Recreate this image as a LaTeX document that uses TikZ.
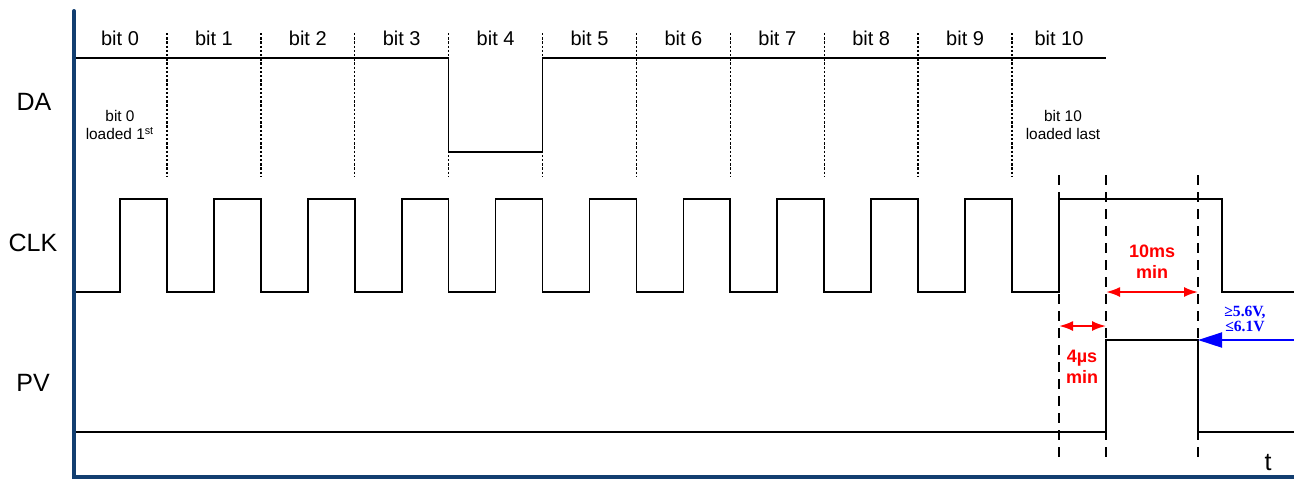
\documentclass[tikz,border=0pt]{standalone}
\usepackage{fontspec}
\setmainfont{Liberation Sans}
\newfontfamily\levelfont{Liberation Serif}
\usetikzlibrary{arrows.meta}
\definecolor{axisblue}{RGB}{18,62,112}
\definecolor{levelblue}{RGB}{0,0,255}
\tikzset{
  sig/.style={line width=0.85pt},
  bitline/.style={line width=0.7pt, dash pattern=on 1.2pt off 0.9pt},
  timeline/.style={line width=0.8pt, dash pattern=on 5pt off 3.5pt},
  dimarrow/.style={red, line width=1pt, {Latex[length=7pt,width=5pt]}-{Latex[length=7pt,width=5pt]}},
  dimtext/.style={red, font=\fontsize{9}{10.4}\selectfont\bfseries, align=center},
  siglabel/.style={font=\fontsize{12.5}{14}\selectfont},
  bitlabel/.style={font=\fontsize{10}{12}\selectfont},
  note/.style={font=\fontsize{7.7}{9.4}\selectfont, align=center},
}
\begin{document}
\begin{tikzpicture}[x=0.5pt,y=-0.5pt]
	\useasboundingbox (0,0) rectangle (1294,479);
	% axes
	\draw[axisblue, line width=2pt, line cap=round] (74,11) -- (74,476.5) -- (1294,476.5);
	% signal names
	\node[siglabel] (da) at (34,102) {DA};
	\node[siglabel] (clk) at (33,243) {CLK};
	\node[siglabel] (pv) at (33,383) {PV};
	% bit cells
	\foreach \k in {0,...,10}
		\node[bitlabel] (bit\k) at ({120+93.9*\k},38) {bit \k};
	\foreach \k in {1,...,10}
		\draw[bitline] ({73+93.9*\k},33) -- ({73+93.9*\k},177);
	\node[note] (first) at (120,125) {bit 0\\loaded 1\textsuperscript{st}};
	\node[note] (last) at (1063,125) {bit 10\\loaded last};
	% DA
	\draw[sig] (76,58) -- (448.6,58) -- (448.6,152) -- (542.5,152) -- (542.5,58) -- (1106,58);
	% CLK
	\draw[sig] (76,292)
		\foreach \k in {0,...,9} {
			-- ({120+93.9*\k},292) -- ({120+93.9*\k},199)
			-- ({166.9+93.9*\k},199) -- ({166.9+93.9*\k},292)
		}
		-- (1059,292) -- (1059,199) -- (1222,199) -- (1222,292) -- (1294,292);
	% PV
	\draw[sig] (76,432) -- (1106,432) -- (1106,340) -- (1198,340) -- (1198,432) -- (1294,432);
	% timing marks
	\foreach \x in {1059,1106,1198}
		\draw[timeline] (\x,175) -- (\x,458);
	\coordinate (clkup) at (1059,326);
	\coordinate (pvupA) at (1106,326);
	\coordinate (pvupB) at (1106,292);
	\coordinate (pvdown) at (1198,292);
	\draw[dimarrow] (clkup) -- (pvupA);
	\draw[dimarrow] (pvupB) -- (pvdown);
	\node[dimtext] (tenms) at (1152,262) {10ms\\min};
	\node[dimtext] (fourus) at (1082,367) {4µs\\min};
	% programming level
	\coordinate (pvhigh) at (1198,340);
	\coordinate (edge) at (1294,340);
	\draw[levelblue, line width=1pt, -{Triangle[length=12pt,width=7.5pt]}] (edge) -- (pvhigh);
	\node[levelblue, font=\levelfont\fontsize{7.8}{7.4}\selectfont\bfseries, align=center] (level) at (1245,319) {≥5.6V,\\≤6.1V};
	\node[font=\fontsize{12.5}{14}\selectfont] (t) at (1268,462) {t};
\end{tikzpicture}
\end{document}
